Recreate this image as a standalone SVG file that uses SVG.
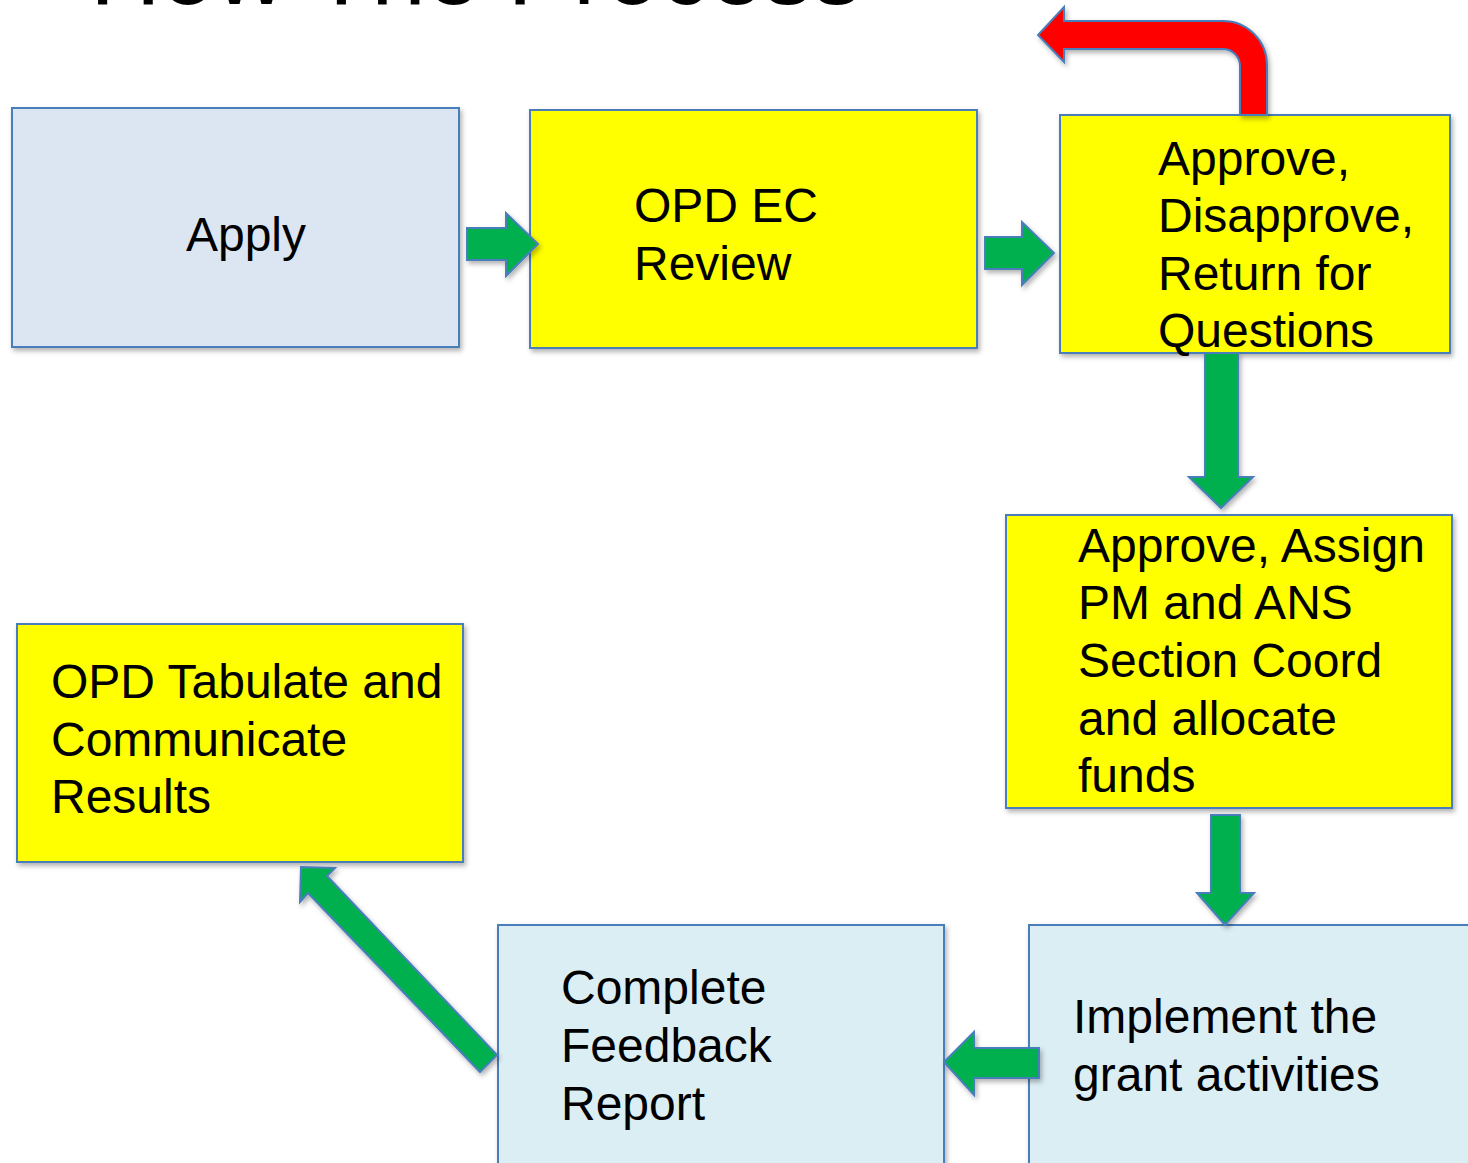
<svg xmlns="http://www.w3.org/2000/svg" width="1468" height="1163" viewBox="0 0 1468 1163">
<style>
.box{stroke:#4a7ebb;stroke-width:2;filter:url(#sh)}
.y{fill:#ffff00}
.b1{fill:#dce6f2}
.b2{fill:#dbeef4}
.t{font-family:"Liberation Sans",Arial,sans-serif;font-size:48px;fill:#000}
.g{fill:#00b050;stroke:#4a7ebb;stroke-width:2;stroke-linejoin:miter;filter:url(#sh)}
.r{fill:#ff0000;stroke:#4a7ebb;stroke-width:2;filter:url(#sh)}
</style>
<defs>
<filter id="sh" x="-10%" y="-10%" width="130%" height="130%">
<feDropShadow dx="2" dy="3" stdDeviation="2.5" flood-color="#000" flood-opacity="0.3"/>
</filter>
</defs>
<rect width="1468" height="1163" fill="#fff"/>
<text x="90" y="4" font-family="Liberation Sans,Arial,sans-serif" font-size="98">How The Process</text>

<g id="apply">
<rect class="box b1" x="12" y="108" width="447" height="239"/>
<text class="t" x="246" y="251" text-anchor="middle">Apply</text>
</g>
<g id="opd-ec-review">
<rect class="box y" x="530" y="110" width="447" height="238"/>
<text class="t" x="634" y="222">OPD EC</text>
<text class="t" x="634" y="280">Review</text>
</g>
<g id="approve-disapprove">
<rect class="box y" x="1060" y="115" width="390" height="238"/>
<text class="t" x="1158" y="175">Approve,</text>
<text class="t" x="1158" y="232">Disapprove,</text>
<text class="t" x="1158" y="290">Return for</text>
<text class="t" x="1158" y="347">Questions</text>
</g>
<g id="approve-assign">
<rect class="box y" x="1006" y="515" width="446" height="293"/>
<text class="t" x="1078" y="562">Approve, Assign</text>
<text class="t" x="1078" y="619">PM and ANS</text>
<text class="t" x="1078" y="677">Section Coord</text>
<text class="t" x="1078" y="735">and allocate</text>
<text class="t" x="1078" y="792">funds</text>
</g>
<g id="opd-tabulate">
<rect class="box y" x="17" y="624" width="446" height="238"/>
<text class="t" x="51" y="698">OPD Tabulate and</text>
<text class="t" x="51" y="756">Communicate</text>
<text class="t" x="51" y="813">Results</text>
</g>
<g id="complete-feedback">
<rect class="box b2" x="498" y="925" width="446" height="260"/>
<text class="t" x="561" y="1004">Complete</text>
<text class="t" x="561" y="1062">Feedback</text>
<text class="t" x="561" y="1120">Report</text>
</g>
<g id="implement">
<rect class="box b2" x="1029" y="925" width="460" height="260"/>
<text class="t" x="1073" y="1033">Implement the</text>
<text class="t" x="1073" y="1091">grant activities</text>
</g>

<g id="connectors">
<path class="g" d="M467,228 L506,228 L506,213 L538,244 L506,276 L506,260 L467,260 Z"/>
<path class="g" d="M985,237 L1022,237 L1022,222 L1054,253 L1022,285 L1022,269 L985,269 Z"/>
<path class="r" d="M1240,115 L1240,66 A17,17 0 0 0 1223,49 L1064,49 L1064,62 L1038,35 L1064,7 L1064,21 L1223,21 A44,44 0 0 1 1267,65 L1267,115 Z"/>
<path class="g" d="M1205,353 L1238,353 L1238,477 L1253,477 L1221,508 L1189,477 L1205,477 Z"/>
<path class="g" d="M1211,815 L1240,815 L1240,893 L1254,893 L1225,925 L1197,893 L1211,893 Z"/>
<path class="g" d="M1039,1048 L1039,1078 L974,1078 L974,1095 L944,1062 L974,1032 L974,1048 Z"/>
<path class="g" d="M301,867 L335,868 L327,876 L497,1055 L480,1072 L308,893 L300,902 Z"/>
</g>
</svg>
